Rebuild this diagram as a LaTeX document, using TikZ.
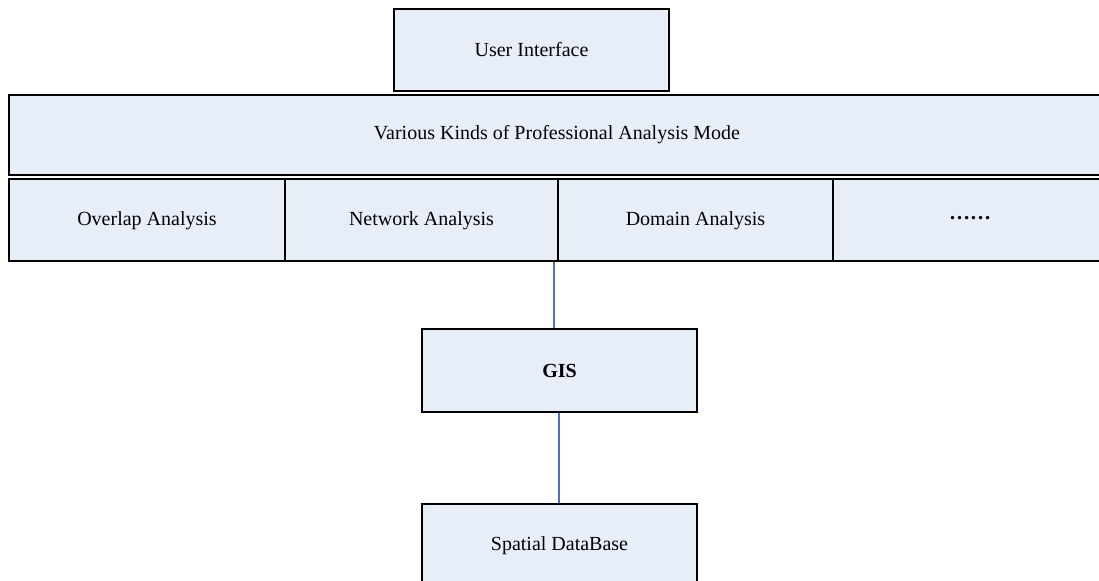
\documentclass[tikz,border=0pt]{standalone}
\usepackage{fontspec}
\setmainfont{Liberation Serif}
\definecolor{boxfill}{RGB}{232,238,248}
\definecolor{linkblue}{RGB}{68,114,196}
\tikzset{
	box/.style={draw, line width=1pt, fill=boxfill, inner sep=0pt, font=\fontsize{10}{12}\selectfont},
	cell/.style={box, minimum height=41pt},
	link/.style={linkblue, line width=1pt}
}
\begin{document}
\begin{tikzpicture}[x=0.5pt, y=-0.5pt]
		\useasboundingbox (0,0) rectangle (1099,581);
		\clip (0,0) rectangle (1099,581);
		
		%INTERFACE
		\node[box, minimum width=137.5pt, minimum height=41pt] (ui) at (531.5,50) {User Interface};
		
		%ANALYSIS MODE
		\node[box, minimum width=548pt, minimum height=40pt] (mode) at (557,135) {Various Kinds of Professional Analysis Mode};
		\node[cell, minimum width=138pt] (overlap) at (147,220.25) {Overlap Analysis};
		\node[cell, minimum width=136.5pt] (network) at (421.5,220.25) {Network Analysis};
		\node[cell, minimum width=137.5pt] (domain) at (695.5,220.25) {Domain Analysis};
		\node[cell, minimum width=137pt, font=\fontsize{10.5}{12}\selectfont\bfseries] (more) at (970,220.25) {\raisebox{2.5pt}{……}};
		
		%GIS AND DATABASE
		\node[box, minimum width=137.5pt, minimum height=41.5pt, font=\fontsize{10}{12}\selectfont\bfseries] (gis) at (559.5,370.5) {GIS};
		\node[box, minimum width=137.5pt, minimum height=42pt] (db) at (559.5,546) {Spatial DataBase};
		
		%LINKS
		\coordinate (gistop) at ([xshift=-2.75pt]gis.north);
		\coordinate (gisbot) at ([xshift=-0.25pt]gis.south);
		\draw[link] (gistop) -- (gistop |- network.south);
		\draw[link] (gisbot) -- (gisbot |- db.north);
	\end{tikzpicture}
\end{document}
